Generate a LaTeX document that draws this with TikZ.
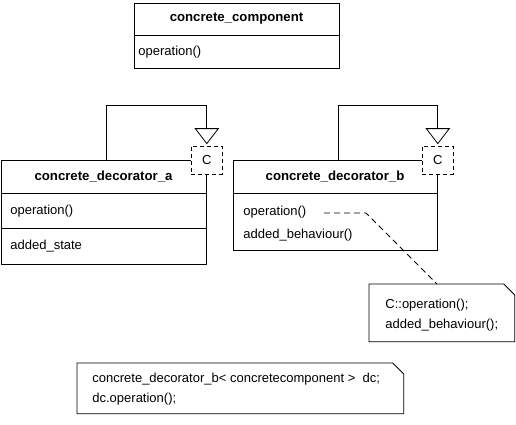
\documentclass[tikz,border=0pt]{standalone}
\usepackage{fontspec}
\setmainfont{Liberation Sans}
\usepackage{tikz}

\tikzset{
  umlbox/.style={draw, line width=0.8pt, anchor=north west, inner sep=0pt},
  title/.style={font=\fontsize{13.2}{15}\selectfont\bfseries, inner sep=0pt},
  member/.style={anchor=west, inner sep=0pt},
  tparam/.style={draw, line width=0.8pt, dash pattern=on 4pt off 3pt, fill=white,
    minimum width=31pt, minimum height=28pt, inner sep=0pt},
  notebox/.style={anchor=north west, inner sep=0pt},
}

\begin{document}
\begin{tikzpicture}[x=1pt, y=-1pt, line width=0.8pt,
    every node/.style={font=\fontsize{13}{15}\selectfont}]
  \useasboundingbox (0,0) rectangle (516,425);
  % concrete component
  \node[umlbox, minimum width=205pt, minimum height=65pt] (comp) at (134,3) {};
  \draw (134,35) -- (339,35);
  \node[title] (comptitle) at (236.5,19) {concrete\_component};
  \node[member] (compop) at (138,52) {operation()};
  % decorator a
  \node[umlbox, minimum width=205pt, minimum height=104pt] (deca) at (1,160) {};
  \draw (1,193) -- (206,193);
  \draw (1,228) -- (206,228);
  \node[title] (decatitle) at (103.5,177) {concrete\_decorator\_a};
  \node[member] (decaop) at (10,211) {operation()};
  \node[member] (decastate) at (10,246) {added\_state};
  % decorator b
  \node[umlbox, minimum width=204pt, minimum height=90pt] (decb) at (233,160) {};
  \draw (233,193) -- (437,193);
  \node[title] (decbtitle) at (335,177) {concrete\_decorator\_b};
  \node[member] (decbop) at (243,212) {operation()};
  \node[member] (decbadd) at (243,235) {added\_behaviour()};
  % template parameters
  \node[tparam] (ca) at (deca.north east) {C};
  \node[tparam] (cb) at (decb.north east) {C};
  \foreach \c in {ca,cb} {
    \draw ([yshift=2pt]\c.north) -- ++(-11.5,-15) -- ++(23,0) -- cycle;
    \coordinate (t\c) at ([yshift=17pt]\c.north);
  }
  \coordinate (la) at (106,160);
  \coordinate (lb) at (338,160);
  \draw (la) -- ++(0,-55) -| (tca);
  \draw (lb) -- ++(0,-55) -| (tcb);
  % note for decorator b
  \node[notebox, minimum width=145pt, minimum height=57pt] (nb) at (369,284) {};
  \draw (nb.north west) -- ([xshift=-11pt]nb.north east) -- ([yshift=-11pt]nb.north east)
    -- (nb.south east) -- (nb.south west) -- cycle;
  \node[member] (nbline1) at (385,305) {C::operation();};
  \node[member] (nbline2) at (385,325) {added\_behaviour();};
  \coordinate (opb) at (324,213);
  \draw[dash pattern=on 6pt off 4pt] (opb) -- ++(42,0) -- ([xshift=68pt]nb.north west);
  % usage note
  \node[notebox, minimum width=326pt, minimum height=50pt] (use) at (77,363) {};
  \draw (use.north west) -- ([xshift=-11pt]use.north east) -- ([yshift=-11pt]use.north east)
    -- (use.south east) -- (use.south west) -- cycle;
  \node[member] (useline1) at (92,379) {concrete\_decorator\_b< concretecomponent >\ \ dc;};
  \node[member] (useline2) at (92,399) {dc.operation();};
\end{tikzpicture}
\end{document}
